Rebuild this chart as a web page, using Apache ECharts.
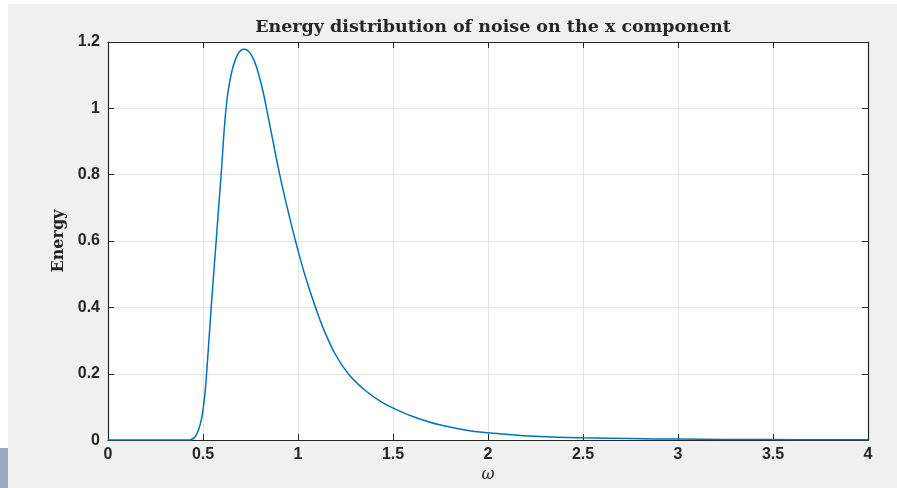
<!DOCTYPE html>
<html>
<head>
<meta charset="utf-8">
<script src="https://cdn.jsdelivr.net/npm/echarts@6/dist/echarts.min.js"></script>
<style>
  html, body { margin: 0; padding: 0; background: #f0f0f0; }
  #main { width: 897px; height: 488px; }
</style>
</head>
<body>
<div id="main"></div>
<script>
// values
var omega = [0, 0.2, 0.4, 0.43, 0.458, 0.475, 0.492, 0.504, 0.515, 0.544, 0.57, 0.596, 0.622, 0.649, 0.683, 0.718,
  0.762, 0.806, 0.85, 0.902, 0.954, 0.998, 1.042, 1.095, 1.14, 1.2, 1.27, 1.357, 1.445, 1.53, 1.605, 1.745,
  1.885, 2.0, 2.13, 2.27, 2.5, 2.75, 3.0, 3.25, 3.5, 3.75, 4.0];
var energy = [0, 0, 0, 0, 0.01, 0.028, 0.064, 0.108, 0.17, 0.407, 0.606, 0.805, 1.004, 1.104, 1.163, 1.178,
  1.153, 1.074, 0.954, 0.805, 0.675, 0.576, 0.487, 0.395, 0.327, 0.255, 0.196, 0.148, 0.113, 0.089, 0.071, 0.046,
  0.030, 0.022, 0.016, 0.011, 0.007, 0.0045, 0.003, 0.002, 0.0015, 0.0012, 0.001];
var xTicks = [0, 0.5, 1, 1.5, 2, 2.5, 3, 3.5, 4];
var yTicks = [0, 0.2, 0.4, 0.6, 0.8, 1, 1.2];

var chart = echarts.init(document.getElementById('main'));

var points = omega.map(function (w, i) { return [w, energy[i]]; });
var axisColor = '#262626';
var labelFont = { color: axisColor, fontFamily: 'Liberation Sans', fontWeight: 'bold', fontSize: 16 };

function xAxisOpt(pos, withLabels) {
  return {
    type: 'value', position: pos, min: xTicks[0], max: xTicks[xTicks.length - 1], interval: 0.5,
    axisLine: { show: true, onZero: false, lineStyle: { color: axisColor, width: 1.2 } },
    axisTick: { show: true, inside: true, length: 6, lineStyle: { color: axisColor } },
    axisLabel: Object.assign({ show: withLabels, margin: 6 }, labelFont),
    splitLine: { show: withLabels, lineStyle: { color: '#e3e3e3', width: 1 } },
    name: withLabels ? 'ω' : '', nameLocation: 'middle', nameGap: 15,
    nameTextStyle: { color: axisColor, fontFamily: 'DejaVu Serif', fontStyle: 'italic', fontSize: 16 }
  };
}
function yAxisOpt(pos, withLabels) {
  return {
    type: 'value', position: pos, min: yTicks[0], max: yTicks[yTicks.length - 1], interval: 0.2,
    axisLine: { show: true, onZero: false, lineStyle: { color: axisColor, width: 1.2 } },
    axisTick: { show: true, inside: true, length: 6, lineStyle: { color: axisColor } },
    axisLabel: Object.assign({ show: withLabels, margin: 8 }, labelFont),
    splitLine: { show: withLabels, lineStyle: { color: '#e3e3e3', width: 1 } },
    name: withLabels ? 'Energy' : '', nameLocation: 'middle', nameGap: 40,
    nameTextStyle: { color: axisColor, fontFamily: 'DejaVu Serif', fontWeight: 'bold', fontSize: 16 }
  };
}

var option = {
  backgroundColor: '#f0f0f0',
  animation: false,
  title: {
    text: 'Energy distribution of noise on the x component',
    left: 488, top: 13, textAlign: 'center',
    textStyle: { color: axisColor, fontFamily: 'DejaVu Serif', fontWeight: 'bold', fontSize: 17.5 }
  },
  grid: { left: 108, right: 29, top: 42, bottom: 45, show: true, backgroundColor: '#ffffff', borderWidth: 0 },
  xAxis: [xAxisOpt('bottom', true), xAxisOpt('top', false)],
  yAxis: [yAxisOpt('left', true), yAxisOpt('right', false)],
  graphic: [
    { type: 'rect', left: 0, top: 0, shape: { width: 897, height: 4 }, style: { fill: '#ffffff' }, silent: true },
    { type: 'rect', left: 0, top: 0, shape: { width: 8, height: 448 }, style: { fill: '#ffffff' }, silent: true },
    { type: 'rect', left: 0, top: 448, shape: { width: 8, height: 40 }, style: { fill: '#9aabc2' }, silent: true }
  ],
  series: [{
    type: 'line',
    data: points,
    showSymbol: false,
    smooth: 0.4,
    lineStyle: { color: '#0072BD', width: 1.5 },
    z: 3
  }]
};

chart.setOption(option);
</script>
</body>
</html>
